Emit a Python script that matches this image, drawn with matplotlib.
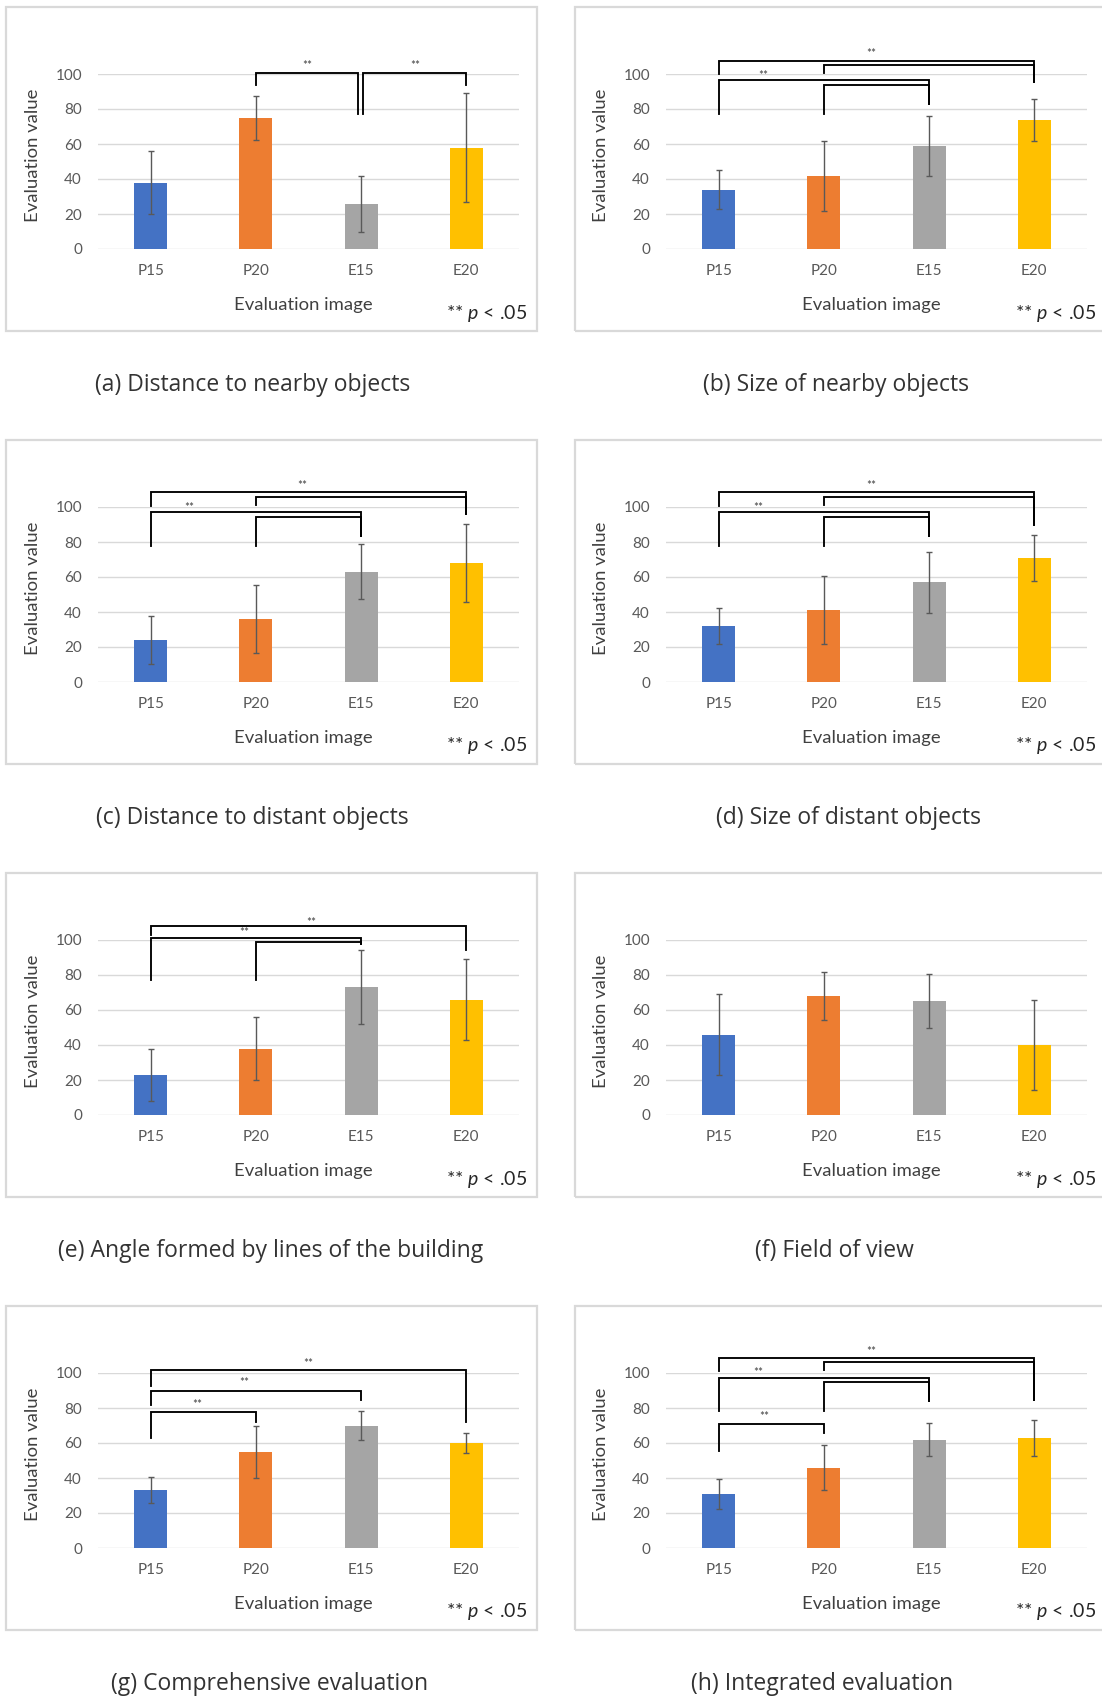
import matplotlib
matplotlib.use("Agg")
import matplotlib.pyplot as plt
from matplotlib.patches import Rectangle

plt.rcParams['font.family'] = ['Lato', 'DejaVu Sans']
plt.rcParams['mathtext.fontset'] = 'custom'
plt.rcParams['mathtext.rm'] = 'Lato'
plt.rcParams['mathtext.it'] = 'Lato:italic'

# ---- data ----
categories = ['P15', 'P20', 'E15', 'E20']
bar_colors = ['#4472C4', '#ED7D31', '#A5A5A5', '#FFC000']

captions = ['(a) Distance to nearby objects', '(b) Size of nearby objects',
            '(c) Distance to distant objects', '(d) Size of distant objects',
            '(e) Angle formed by lines of the building', '(f) Field of view',
            '(g) Comprehensive evaluation', '(h) Integrated evaluation']

means_a = [38, 75, 26, 58]
err_a = [18, 12.6, 16, 31]
means_b = [34, 42, 59, 74]
err_b = [11, 20, 17, 12]
means_c = [24, 36, 63, 68]
err_c = [13.6, 19.3, 15.8, 22.2]
means_d = [32, 41, 57, 71]
err_d = [10.2, 19.4, 17.3, 13.2]
means_e = [23, 38, 73, 66]
err_e = [15, 18, 21.2, 22.9]
means_f = [46, 68, 65, 40]
err_f = [22.9, 13.9, 15.5, 25.5]
means_g = [33, 55, 70, 60]
err_g = [7.4, 15, 8.1, 5.8]
means_h = [31, 46, 62, 63]
err_h = [8.7, 12.7, 9.2, 10.4]

# significance brackets: (x_left, x_right, y_bar, y_left_end, y_right_end)
brackets_a = [(1, 1.975, 100.8, 93.7, 76.9), (2.015, 3, 100.8, 76.9, 93.7)]
brackets_b = [(0, 3, 107.6, 100, 95.6), (1, 3, 105, 100.8, 95.6),
              (0, 2, 96.4, 77.1, 82.8), (1, 2, 93.7, 77, 82.8)]
brackets_c = [(0, 3, 108.6, 100.8, 96), (1, 3, 105.9, 101.3, 96),
              (0, 2, 96.9, 77.8, 83.6), (1, 2, 94.3, 77.8, 83.6)]
brackets_d = [(0, 3, 108.6, 100.8, 89.5), (1, 3, 105.9, 101.3, 89.5),
              (0, 2, 96.9, 77.8, 83.6), (1, 2, 94.3, 77.8, 83.6)]
brackets_e = [(0, 3, 107.8, 102.9, 94.1), (0, 2, 101, 77, 97.5),
              (1, 2, 98.7, 77, 97.5)]
brackets_f = []
brackets_g = [(0, 3, 101.5, 92.7, 72.1), (0, 2, 90, 81.9, 84.4),
              (0, 1, 77.7, 62.6, 72.1)]
brackets_h = [(0, 3, 108.8, 101.1, 84.7), (1, 3, 106.5, 101.7, 84.7),
              (0, 2, 96.9, 78.1, 84), (1, 2, 94.7, 78.1, 84),
              (0, 1, 70.8, 55.5, 65.6)]

# "**" marks (x in category units, y in data units)
stars_a = [(1.49, 105), (2.51, 105)]
stars_b = [(1.45, 111.8), (0.42, 99.4)]
stars_c = [(1.44, 112.4), (0.37, 100)]
stars_d = [(1.45, 112.4), (0.38, 100)]
stars_e = [(1.53, 110.1), (0.89, 104.2)]
stars_f = []
stars_g = [(1.5, 105.2), (0.89, 94.3), (0.44, 81.9)]
stars_h = [(1.45, 112.4), (0.38, 100.4), (0.43, 75.2)]

means = [means_a, means_b, means_c, means_d, means_e, means_f, means_g, means_h]
errs = [err_a, err_b, err_c, err_d, err_e, err_f, err_g, err_h]
brackets = [brackets_a, brackets_b, brackets_c, brackets_d,
            brackets_e, brackets_f, brackets_g, brackets_h]
stars = [stars_a, stars_b, stars_c, stars_d, stars_e, stars_f, stars_g, stars_h]

# ---- layout (pixels) ----
W, H = 1102, 1702
fig = plt.figure(figsize=(W / 100, H / 100), dpi=100)
fig.patch.set_facecolor('white')


def fx(x):
    return x / W


def fy(y):
    return 1 - y / H


box_left = [5.6, 574.5]
box_w, box_h = 531, 324
plot_left = [98, 666]
plot_w, plot_h = 421, 175
row_top = [7, 440, 873, 1306]
caption_x = [253, 836, 252, 848, 271, 834, 270, 822]

for k in range(8):
    row, col = k // 2, k % 2
    bl, bt = box_left[col], row_top[row]
    pl, pt = plot_left[col], bt + 67
    y0 = pt + plot_h

    fig.patches.append(Rectangle((fx(bl), fy(bt + box_h)), box_w / W, box_h / H,
                                 transform=fig.transFigure, fill=False,
                                 edgecolor='#D9D9D9', lw=1.6, zorder=0))

    ax = fig.add_axes([fx(pl), fy(y0), plot_w / W, plot_h / H])
    x = range(len(categories))
    ax.bar(x, means[k], width=0.315, color=bar_colors, zorder=3,
           yerr=errs[k], error_kw=dict(ecolor='#595959', elinewidth=1,
                                       capsize=2.5, capthick=1))
    ax.set_xlim(-0.5, 3.5)
    ax.set_ylim(0, 100)
    ax.set_yticks([0, 20, 40, 60, 80, 100])
    ax.set_xticks(list(x))
    ax.set_xticklabels(categories)
    ax.yaxis.grid(True, color='#D9D9D9', lw=1)
    ax.set_axisbelow(True)
    for s in ax.spines.values():
        s.set_visible(False)
    ax.tick_params(length=0, labelsize=11, labelcolor='#595959')
    ax.tick_params(axis='x', pad=10.5)
    ax.tick_params(axis='y', pad=11.5)
    ax.patch.set_alpha(0)

    for (xl, xr, yb, yl, yr) in brackets[k]:
        ax.plot([xl, xl, xr, xr], [yl, yb, yb, yr], color='black', lw=1.35,
                clip_on=False, zorder=4, solid_joinstyle='miter')
    for (sx, sy) in stars[k]:
        ax.text(sx, sy, '**', ha='center', va='center', fontsize=8.5,
                color='#404040', clip_on=False)

    fig.text(fx(bl + 27), fy(y0 - 94), 'Evaluation value', rotation=90,
             ha='center', va='center', fontsize=13.3, color='#404040')
    fig.text(fx(pl + 205), fy(y0 + 56), 'Evaluation image',
             ha='center', va='center', fontsize=13.3, color='#404040')
    fig.text(fx(bl + 521.5), fy(y0 + 64), r'** $p$ < .05',
             ha='right', va='center', fontsize=14, color='#262626')
    fig.text(fx(caption_x[k]), fy(bt + box_h + 54), captions[k],
             ha='center', va='center', fontsize=16.5, color='#333333',
             family=['Open Sans', 'DejaVu Sans'])

fig.savefig('out.png', dpi=100)
